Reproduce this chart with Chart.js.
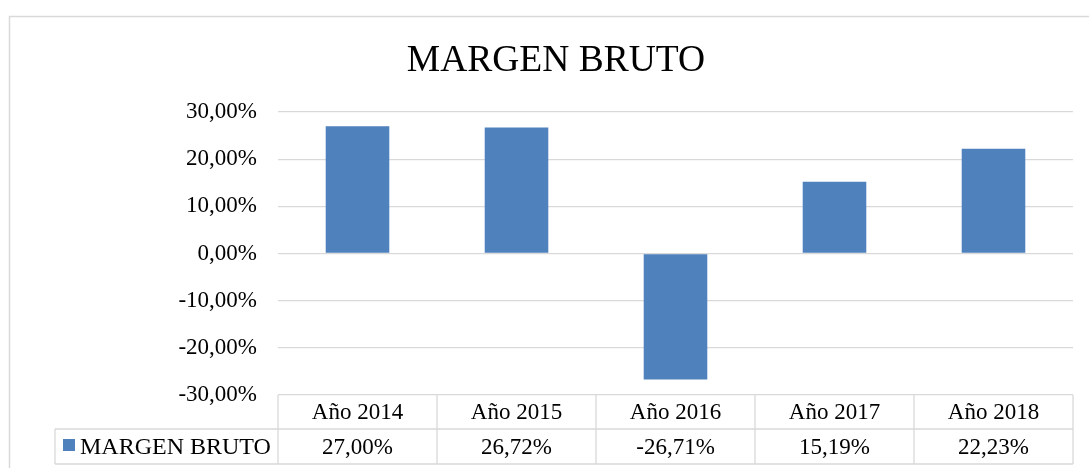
<!DOCTYPE html>
<html>
<head>
<meta charset="utf-8">
<script src="https://cdn.jsdelivr.net/npm/chart.js@4"></script>
<style>
  html, body { margin: 0; padding: 0; background: #fff; }
  #wrap { width: 1089px; height: 468px; position: relative; }
</style>
</head>
<body>
<div id="wrap"><canvas id="grafico"></canvas></div>
<script>
const categorias = ['Año 2014', 'Año 2015', 'Año 2016', 'Año 2017', 'Año 2018'];
const margenBruto = [27.00, 26.72, -26.71, 15.19, 22.23];
const nombreSerie = 'MARGEN BRUTO';
const azul = '#4f81bd';
const gris = '#d9d9d9';
const fuente = 'Liberation Serif, Times New Roman, serif';

function pct(v) {
  return v.toFixed(2).replace('.', ',') + '%';
}

// marco, titulo y tabla de datos debajo del eje
const tablaDatos = {
  id: 'tablaDatos',
  beforeDraw(chart) {
    const ctx = chart.ctx;
    ctx.save();
    ctx.strokeStyle = gris;
    ctx.lineWidth = 1.5;
    ctx.strokeRect(9.5, 16.5, 1300, 600);
    ctx.fillStyle = '#000';
    ctx.font = '37.5px ' + fuente;
    ctx.textAlign = 'center';
    ctx.textBaseline = 'alphabetic';
    ctx.fillText(nombreSerie, 556, 71);
    ctx.restore();
  },
  afterDraw(chart) {
    const ctx = chart.ctx;
    const x = chart.scales.x;
    const area = chart.chartArea;
    const n = categorias.length;
    const ancho = (area.right - area.left) / n;
    const top = area.bottom;
    const medio = top + 34;
    const fondo = top + 69;
    const izqLeyenda = 55;

    ctx.save();
    ctx.strokeStyle = gris;
    ctx.lineWidth = 1.3;
    ctx.beginPath();
    for (let i = 0; i <= n; i++) {
      const cx = area.left + i * ancho;
      ctx.moveTo(cx, top);
      ctx.lineTo(cx, fondo);
    }
    ctx.moveTo(izqLeyenda, medio);
    ctx.lineTo(area.right, medio);
    ctx.moveTo(izqLeyenda, fondo);
    ctx.lineTo(area.right, fondo);
    ctx.moveTo(izqLeyenda, medio);
    ctx.lineTo(izqLeyenda, fondo);
    ctx.stroke();

    ctx.fillStyle = '#000';
    ctx.font = '23px ' + fuente;
    ctx.textAlign = 'center';
    ctx.textBaseline = 'middle';
    categorias.forEach((c, i) => {
      const cx = x.getPixelForValue(i);
      ctx.fillText(c, cx, (top + medio) / 2 + 1);
      ctx.fillText(pct(margenBruto[i]), cx, (medio + fondo) / 2 + 1);
    });

    // clave de la serie
    ctx.fillStyle = azul;
    ctx.fillRect(63, 439, 12, 12);
    ctx.fillStyle = '#000';
    ctx.textAlign = 'left';
    ctx.font = '24px ' + fuente;
    ctx.fillText(nombreSerie, 80, (medio + fondo) / 2 + 1);
    ctx.restore();
  }
};

new Chart(document.getElementById('grafico'), {
  type: 'bar',
  data: {
    labels: categorias,
    datasets: [{
      label: nombreSerie,
      data: margenBruto,
      backgroundColor: azul,
      borderWidth: 0,
      categoryPercentage: 1,
      barPercentage: 0.4
    }]
  },
  options: {
    responsive: true,
    maintainAspectRatio: false,
    animation: false,
    layout: { padding: { top: 112, right: 16, bottom: 73, left: 0 } },
    scales: {
      x: { display: false },
      y: {
        min: -30,
        max: 30,
        afterFit(scale) { scale.width = 278; },
        border: { display: false },
        grid: { color: gris, lineWidth: 1.3, drawTicks: false },
        ticks: {
          stepSize: 10,
          padding: 21,
          color: '#000',
          font: { family: fuente, size: 23 },
          callback: v => pct(v)
        }
      }
    },
    plugins: {
      legend: { display: false },
      tooltip: { enabled: false },
      title: { display: false }
    }
  },
  plugins: [tablaDatos]
});
</script>
</body>
</html>
